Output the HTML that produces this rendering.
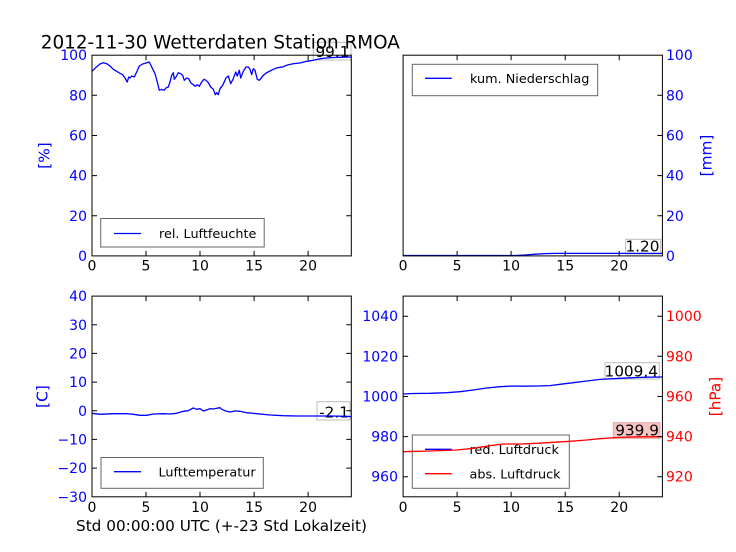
<!DOCTYPE html>
<html><head><meta charset="utf-8"><style>
html,body{margin:0;padding:0;background:#fff;}
svg{display:block;}
text{font-family:"DejaVu Sans","Liberation Sans",sans-serif;}
</style></head><body>
<svg width="736" height="552" viewBox="0 0 736 552" xmlns="http://www.w3.org/2000/svg">
<rect width="736" height="552" fill="#fff"/>

<!-- ============ TOP-LEFT: humidity ============ -->
<rect x="92" y="55.2" width="259.3" height="200.7" fill="#fff"/>
<rect x="313.3" y="42.3" width="37.7" height="17.7" fill="#fff" stroke="#bbb" stroke-width="1"/>
<text x="349.5" y="57" font-size="15.3" text-anchor="end" fill="#000">99.1</text>
<polyline fill="none" stroke="#0000ff" stroke-width="1.3" stroke-linejoin="round" points="92,71.3 94,69.3 96.7,66.7 100,64 103.3,62.7 106.7,63.7 110,66 113.3,69.3 116.7,71.3 120,73.3 122.7,74.7 125,78 127.3,82 128.7,77 130,78 131.7,76 134.3,77 136.7,72 139.3,66 142.7,64 146,63 149.3,62 151.7,67 155,73.7 157.3,82 159.3,90.3 161.7,89.3 164,90.3 166,88 168.3,87 170,82 171.7,75.3 173.3,72.7 174.3,79.3 176,77 178.3,72.7 180.7,73.7 182.7,75.3 184.3,80.3 186.7,78 188.7,78.7 190.7,82.7 192.7,84.3 195,86.3 197.3,84.7 199.3,86.3 201.7,82 204,79.3 206,80.3 208.3,82.7 210.7,87 213.3,89.3 215.3,94.7 216.7,92.7 218.3,94.7 220,88.7 222.7,85.3 226,78 228.3,76 230.7,83.7 233.3,78.7 235.7,72 237.3,76 239.3,70.3 240.7,78 243.3,71.3 246,67 248.3,67 250,69.3 251.7,74.7 253.3,68.7 255,70.3 257.3,79.3 259.3,80.3 260.7,78.7 263.3,75.3 266.7,72.7 270,71 273.3,69.3 276.7,68 280,67.3 282.7,67 285,66 288.3,64.7 293.3,63.7 300,63 306.7,61.3 313.3,60.3 320,58.7 326.7,58 333.3,57.5 340,57.3 346.7,57.1 351.3,57"/>
<!-- legend -->
<rect x="100.7" y="218.5" width="163.5" height="28.5" fill="#fff" stroke="#666" stroke-width="1"/>
<line x1="114" y1="233.5" x2="141" y2="233.5" stroke="#0000ff" stroke-width="1.3"/>
<text x="159" y="238.2" font-size="12.8" fill="#000">rel. Luftfeuchte</text>
<!-- frame -->
<rect x="92" y="55.2" width="259.3" height="200.7" fill="none" stroke="#000" stroke-width="1"/>
<g stroke="#000" stroke-width="1">
<path d="M92 215.8h5M92 175.6h5M92 135.5h5M92 95.3h5M351.3 215.8h-5M351.3 175.6h-5M351.3 135.5h-5M351.3 95.3h-5"/>
<path d="M146 255.9v-5M200 255.9v-5M254.1 255.9v-5M308.1 255.9v-5M146 55.2v5M200 55.2v5M254.1 55.2v5M308.1 55.2v5"/>
</g>
<g font-size="14" fill="#0000ff" text-anchor="end">
<text x="87" y="260.9">0</text><text x="87" y="220.8">20</text><text x="87" y="180.6">40</text><text x="87" y="140.5">60</text><text x="87" y="100.3">80</text><text x="87" y="60.2">100</text>
</g>
<g font-size="14" fill="#000" text-anchor="middle">
<text x="92" y="270.5">0</text><text x="146" y="270.5">5</text><text x="200" y="270.5">10</text><text x="254.1" y="270.5">15</text><text x="308.1" y="270.5">20</text>
</g>
<text transform="translate(49.7,155.5) rotate(-90)" font-size="15.3" fill="#0000ff" text-anchor="middle">[%]</text>

<!-- title -->
<text x="40.8" y="48.3" font-size="18.2" fill="#000" textLength="359" lengthAdjust="spacingAndGlyphs">2012-11-30 Wetterdaten Station RMOA</text>

<!-- ============ TOP-RIGHT: precipitation ============ -->
<rect x="625.7" y="239.3" width="35" height="14.7" fill="#fff" stroke="#bbb" stroke-width="1"/>
<text x="659.5" y="251.7" font-size="15.3" text-anchor="end" fill="#000">1.20</text>
<polyline fill="none" stroke="#0000ff" stroke-width="1.3" points="403.1,255.5 515,255.5 525,255 535,254.2 545,253.6 555,253.4 662.4,253.4"/>
<rect x="412.3" y="64.3" width="185.4" height="31.4" fill="#fff" stroke="#666" stroke-width="1"/>
<line x1="425" y1="78.3" x2="451.7" y2="78.3" stroke="#0000ff" stroke-width="1.3"/>
<text x="470" y="83" font-size="12.8" fill="#000">kum. Niederschlag</text>
<rect x="403.1" y="55.2" width="259.3" height="200.7" fill="none" stroke="#000" stroke-width="1"/>
<g stroke="#000" stroke-width="1">
<path d="M662.4 215.8h-5M662.4 175.6h-5M662.4 135.5h-5M662.4 95.3h-5"/>
<path d="M457.1 255.9v-5M511.1 255.9v-5M565.2 255.9v-5M619.2 255.9v-5M457.1 55.2v5M511.1 55.2v5M565.2 55.2v5M619.2 55.2v5"/>
</g>
<g font-size="14" fill="#0000ff" text-anchor="start">
<text x="666" y="260.9">0</text><text x="666" y="220.8">20</text><text x="666" y="180.6">40</text><text x="666" y="140.5">60</text><text x="666" y="100.3">80</text><text x="666" y="60.2">100</text>
</g>
<g font-size="14" fill="#000" text-anchor="middle">
<text x="403.1" y="270.5">0</text><text x="457.1" y="270.5">5</text><text x="511.1" y="270.5">10</text><text x="565.2" y="270.5">15</text><text x="619.2" y="270.5">20</text>
</g>
<text transform="translate(711.3,155.5) rotate(-90)" font-size="15.3" fill="#0000ff" text-anchor="middle">[mm]</text>

<!-- ============ BOTTOM-LEFT: temperature ============ -->
<rect x="317" y="401.7" width="33" height="18.3" fill="#fff" stroke="#bbb" stroke-width="1"/>
<text x="349" y="417.3" font-size="15.3" text-anchor="end" fill="#000">-2.1</text>
<polyline fill="none" stroke="#0000ff" stroke-width="1.3" stroke-linejoin="round" points="92,413.3 100,414.3 113.3,413.7 126.7,413.7 133.3,414.3 140,415.3 146.7,415.3 153.3,414 163.3,413.7 170,414 176.7,413.3 183.3,411.3 188.3,410.7 193.3,408 196.7,409.3 200,408.7 203.3,411 206.7,410 210,408.7 213.3,409 216.7,408.3 220,407.7 221.7,409.3 225,410.7 230,412 235,411 240,411.3 246.7,412.7 256.7,413.7 270,415 283.3,415.7 296.7,416 313.3,416 330,416 346.7,416.3 351.3,416.6"/>
<rect x="101" y="457.5" width="162.3" height="30.8" fill="#fff" stroke="#666" stroke-width="1"/>
<line x1="114" y1="471.7" x2="141" y2="471.7" stroke="#0000ff" stroke-width="1.3"/>
<text x="158.5" y="476.3" font-size="12.8" fill="#000">Lufttemperatur</text>
<rect x="92" y="296.1" width="259.3" height="200.7" fill="none" stroke="#000" stroke-width="1"/>
<g stroke="#000" stroke-width="1">
<path d="M92 324.8h5M92 353.4h5M92 382.1h5M92 410.8h5M92 439.4h5M92 468.1h5M351.3 324.8h-5M351.3 353.4h-5M351.3 382.1h-5M351.3 410.8h-5M351.3 439.4h-5M351.3 468.1h-5"/>
<path d="M146 496.8v-5M200 496.8v-5M254.1 496.8v-5M308.1 496.8v-5M146 296.1v5M200 296.1v5M254.1 296.1v5M308.1 296.1v5"/>
</g>
<g font-size="14" fill="#0000ff" text-anchor="end">
<text x="87" y="301.1">40</text><text x="87" y="329.8">30</text><text x="87" y="358.4">20</text><text x="87" y="387.1">10</text><text x="87" y="415.8">0</text><text x="87" y="444.4">−10</text><text x="87" y="473.1">−20</text><text x="87" y="501.8">−30</text>
</g>
<g font-size="14" fill="#000" text-anchor="middle">
<text x="92" y="511.8">0</text><text x="146" y="511.8">5</text><text x="200" y="511.8">10</text><text x="254.1" y="511.8">15</text><text x="308.1" y="511.8">20</text>
</g>
<text transform="translate(47.5,396.5) rotate(-90)" font-size="15.3" fill="#0000ff" text-anchor="middle">[C]</text>
<text x="76" y="531" font-size="15.3" fill="#000" textLength="291" lengthAdjust="spacingAndGlyphs">Std 00:00:00 UTC (+-23 Std Lokalzeit)</text>

<!-- ============ BOTTOM-RIGHT: pressure ============ -->
<rect x="605" y="362.7" width="54.3" height="16.3" fill="#fff" stroke="#bbb" stroke-width="1"/>
<text x="658" y="376.5" font-size="15.3" text-anchor="end" fill="#000">1009.4</text>
<polyline fill="none" stroke="#0000ff" stroke-width="1.3" stroke-linejoin="round" points="403.1,394 413.3,393.5 430,393.3 446.7,392.7 460,391.7 473.3,390 486.7,388 500,386.7 511.7,386 523.3,386.2 536.7,386 550,385.6 560,384.3 573.3,382.7 586.7,381 600,379.4 613.3,378.7 630,377.8 646.7,377.2 662.4,377"/>
<rect x="412.3" y="435" width="157" height="53.3" fill="#fff" stroke="#666" stroke-width="1"/>
<line x1="425" y1="449.3" x2="451.7" y2="449.3" stroke="#0000ff" stroke-width="1.3"/>
<text x="469.5" y="454" font-size="12.8" fill="#000">red. Luftdruck</text>
<line x1="425" y1="473.7" x2="451.7" y2="473.7" stroke="#ff0000" stroke-width="1.3"/>
<text x="469.5" y="478.4" font-size="12.8" fill="#000">abs. Luftdruck</text>
<rect x="613.3" y="422.7" width="46.7" height="15.6" fill="#f7c4c4" stroke="#e0a8a8" stroke-width="1"/>
<text x="659" y="435.7" font-size="15.3" text-anchor="end" fill="#000">939.9</text>
<polyline fill="none" stroke="#ff0000" stroke-width="1.3" stroke-linejoin="round" points="403.1,451.7 430,451 456.7,450 473.3,448.3 490,445.7 503.3,444 520,444 536.7,443.3 553.3,442.3 570,441.3 586.7,440 600,438.7 620,437.4 640,436.8 662.4,436.7"/>
<rect x="403.1" y="296.1" width="259.3" height="200.7" fill="none" stroke="#000" stroke-width="1"/>
<g stroke="#000" stroke-width="1">
<path d="M403.1 316.2h5M403.1 356.3h5M403.1 396.5h5M403.1 436.6h5M403.1 476.7h5M662.4 316.2h-5M662.4 356.3h-5M662.4 396.5h-5M662.4 436.6h-5M662.4 476.7h-5"/>
<path d="M457.1 496.8v-5M511.1 496.8v-5M565.2 496.8v-5M619.2 496.8v-5M457.1 296.1v5M511.1 296.1v5M565.2 296.1v5M619.2 296.1v5"/>
</g>
<g font-size="14" fill="#0000ff" text-anchor="end">
<text x="398" y="321.2">1040</text><text x="398" y="361.3">1020</text><text x="398" y="401.5">1000</text><text x="398" y="441.6">980</text><text x="398" y="481.7">960</text>
</g>
<g font-size="14" fill="#ff0000" text-anchor="start">
<text x="666" y="321.2">1000</text><text x="666" y="361.3">980</text><text x="666" y="401.5">960</text><text x="666" y="441.6">940</text><text x="666" y="481.7">920</text>
</g>
<g font-size="14" fill="#000" text-anchor="middle">
<text x="403.1" y="511.8">0</text><text x="457.1" y="511.8">5</text><text x="511.1" y="511.8">10</text><text x="565.2" y="511.8">15</text><text x="619.2" y="511.8">20</text>
</g>
<text transform="translate(720.7,396.5) rotate(-90)" font-size="15.3" fill="#ff0000" text-anchor="middle">[hPa]</text>
</svg>
</body></html>
